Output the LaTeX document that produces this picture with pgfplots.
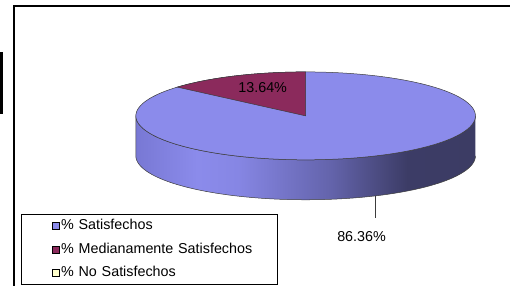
\documentclass[border=0pt]{standalone}
\usepackage{fontspec}
\setmainfont{Liberation Sans}
\usepackage{pgfplots}
\pgfplotsset{compat=1.18}
\usepackage{pgfplotstable}
\definecolor{topblue}{RGB}{139,139,235}
\definecolor{maroonpie}{RGB}{139,42,92}
\definecolor{legyellow}{RGB}{255,255,204}
\definecolor{outl}{RGB}{60,60,60}
\definecolor{sideA}{RGB}{120,120,212}
\definecolor{sideB}{RGB}{139,139,235}
\definecolor{sideC}{RGB}{134,134,228}
\definecolor{sideD}{RGB}{100,100,172}
\definecolor{sideE}{RGB}{60,60,102}
\definecolor{sideF}{RGB}{60,60,100}
\pgfdeclarehorizontalshading{sidegrad}{100bp}{color(0bp)=(sideA); color(25bp)=(sideA); color(34bp)=(sideB); color(40bp)=(sideC); color(53.5bp)=(sideD); color(65bp)=(sideE); color(75bp)=(sideF); color(100bp)=(sideF)}
\pgfplotsset{legimg/.style={legend image code/.code={%
  \path (0bp,-3.5bp) (38bp,3.5bp);
  \draw[##1, draw=black, line width=0.6bp] (31bp,-3.5bp) rectangle (38bp,3.5bp);}}}
\pgfplotstableread{
label value
Satisfechos 86.36
Medianamente 13.64
NoSatisfechos 0
}\piedata
\newcommand{\bigf}{\fontsize{14.4}{17}\selectfont}
\begin{document}
\begin{tikzpicture}
\pgfplotstablegetelem{0}{value}\of\piedata \let\vS\pgfplotsretval
\pgfplotstablegetelem{1}{value}\of\piedata \let\vM\pgfplotsretval
\pgfmathsetmacro\angM{3.6*\vM}
\begin{axis}[
  x=1bp, y=1bp, y dir=reverse,
  xmin=0, xmax=511, ymin=0, ymax=286,
  scale only axis, axis lines=none, clip=false,
  legend cell align=left,
  legend style={at={(axis cs:21,214)}, anchor=north west, draw=black, line width=0.8bp,
    inner xsep=0pt, inner ysep=4bp, row sep=8bp, font=\bigf,
    nodes={inner sep=1bp, text height=10.5bp, text depth=3bp, text width=216bp}},
]
\path (axis cs:0,0) rectangle (axis cs:511,286);
% side wall of the pie
\addplot[forget plot, shade, shading=sidegrad, draw=outl, line width=0.5bp, domain=0:2, samples=161, variable=\s]
 ({306+170*cos((\s<=1) ? (360-180*\s) : (180*\s))},
  {((\s<=1) ? 156 : 116) - 44*sin((\s<=1) ? (360-180*\s) : (180*\s))});
% top face: satisfechos
\addplot[forget plot, fill=topblue, draw=outl, line width=0.5bp, domain=0:360, samples=145]
 ({306+170*cos(x)}, {116-44*sin(x)});
% medianamente sector
\addplot[forget plot, fill=maroonpie, draw=outl, line width=0.5bp, domain=-0.1:1.1, samples=49, variable=\s]
 ({306 + ((\s<-0.001 || \s>1.001) ? 0 : 1)*170*cos(90+\angM*min(max(\s,0),1))},
  {116 - ((\s<-0.001 || \s>1.001) ? 0 : 1)*44*sin(90+\angM*min(max(\s,0),1))});
\addlegendimage{legimg, fill=topblue}
\addlegendentry{\% Satisfechos}
\addlegendimage{legimg, fill=maroonpie}
\addlegendentry{\% Medianamente Satisfechos}
\addlegendimage{legimg, fill=legyellow}
\addlegendentry{\% No Satisfechos}
\node[font=\bigf] at (axis cs:263,88) {\vM\%};
\draw[outl, line width=0.8bp] (axis cs:376,196) -- (axis cs:376,218);
\node[font=\bigf] at (axis cs:362,237) {\vS\%};
\draw[black, line width=1.2bp] (axis cs:14,286) -- (axis cs:14,6) -- (axis cs:511,6);
\fill[black] (axis cs:0,52) rectangle (axis cs:2.7,114);
\end{axis}
\end{tikzpicture}
\end{document}
